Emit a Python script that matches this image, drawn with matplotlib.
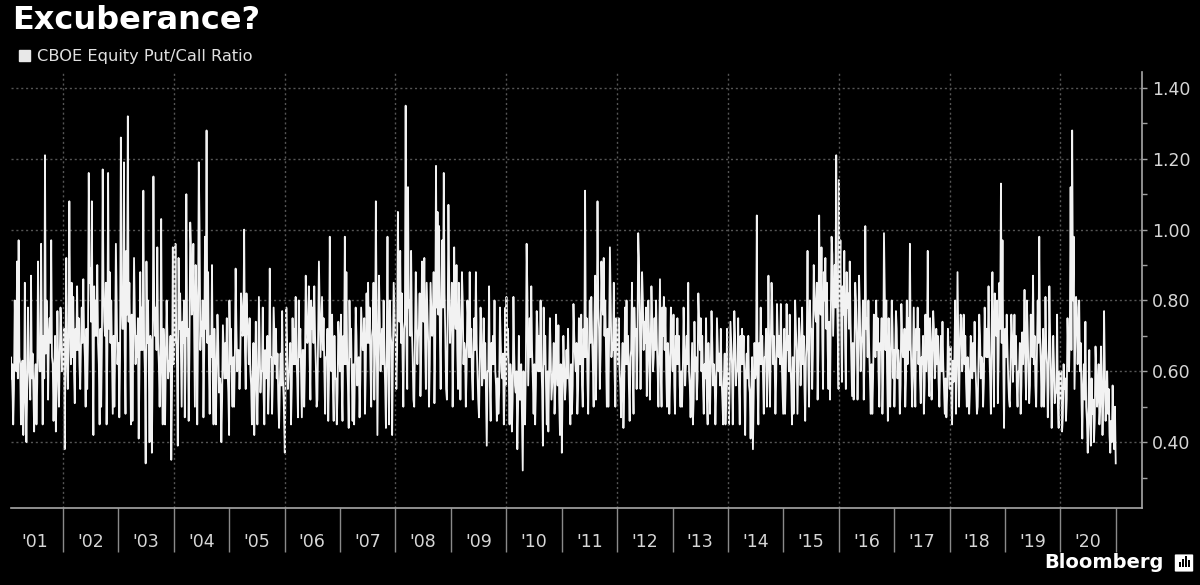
import numpy as np
import pandas as pd
import matplotlib
matplotlib.use('Agg')
import matplotlib.pyplot as plt
import matplotlib.dates as mdates
from matplotlib.ticker import FormatStrFormatter
from matplotlib.patches import Patch, Rectangle, FancyBboxPatch

# CBOE equity put/call ratio (x100), 6 readings per month
pcr_2001 = [57, 72, 60, 48, 64, 58, 62, 45, 55, 80, 66, 60, 91, 58, 97, 64, 62, 45, 60, 63, 42, 52, 85, 55,
            40, 54, 78, 62, 58, 52, 87, 58, 65, 55, 43, 57, 62, 45, 57, 91, 68, 60, 60, 96, 66, 45, 70, 58,
            121, 65, 80, 72, 52, 70, 75, 68, 97, 64, 62, 46, 60, 70, 43, 56, 77, 62, 50, 64, 78, 72, 60, 66]
pcr_2002 = [62, 72, 38, 66, 92, 64, 55, 66, 108, 75, 62, 85, 64, 81, 60, 51, 72, 66, 84, 66, 75, 62, 55, 68,
            78, 68, 86, 70, 64, 50, 72, 55, 68, 116, 85, 89, 74, 108, 66, 42, 84, 70, 80, 70, 90, 68, 62, 45,
            72, 50, 68, 117, 84, 74, 70, 85, 45, 66, 116, 72, 88, 68, 80, 64, 48, 70, 50, 66, 96, 78, 62, 68]
pcr_2003 = [68, 47, 64, 126, 80, 72, 72, 119, 66, 48, 94, 76, 132, 74, 85, 68, 45, 76, 46, 68, 92, 78, 62, 70,
            64, 75, 41, 60, 88, 66, 78, 66, 111, 68, 60, 34, 91, 68, 80, 62, 40, 70, 68, 37, 62, 115, 80, 70,
            78, 66, 95, 68, 62, 50, 64, 103, 60, 45, 72, 66, 45, 62, 80, 70, 58, 63, 60, 70, 35, 56, 95, 62]
pcr_2004 = [80, 68, 96, 70, 62, 39, 92, 72, 82, 66, 50, 74, 68, 80, 47, 62, 110, 70, 72, 46, 66, 102, 95, 76,
            78, 96, 72, 50, 90, 80, 45, 72, 119, 100, 66, 74, 70, 80, 47, 66, 98, 72, 128, 68, 88, 62, 48, 70,
            64, 90, 58, 45, 72, 62, 45, 60, 76, 68, 54, 58, 56, 40, 52, 73, 65, 58, 68, 58, 75, 60, 54, 42]
pcr_2005 = [80, 62, 72, 58, 50, 64, 50, 64, 89, 72, 60, 66, 66, 55, 62, 82, 78, 70, 72, 100, 66, 55, 82, 74,
            70, 62, 75, 60, 56, 45, 60, 68, 42, 56, 74, 58, 45, 58, 81, 68, 54, 60, 60, 78, 54, 45, 66, 58,
            62, 70, 48, 56, 89, 64, 64, 48, 58, 78, 70, 62, 72, 58, 65, 52, 44, 56, 65, 56, 77, 58, 52, 42]
pcr_2006 = [37, 58, 78, 68, 55, 60, 60, 68, 45, 56, 75, 62, 72, 62, 81, 64, 58, 47, 80, 64, 72, 60, 47, 66,
            66, 50, 62, 87, 76, 68, 70, 84, 64, 52, 80, 72, 78, 68, 84, 70, 62, 50, 52, 70, 91, 78, 64, 72,
            81, 66, 75, 60, 48, 64, 64, 72, 46, 58, 98, 62, 60, 76, 55, 46, 70, 58, 58, 45, 54, 74, 68, 60]
pcr_2007 = [60, 76, 56, 46, 70, 62, 98, 62, 88, 64, 56, 44, 80, 64, 72, 58, 46, 62, 45, 60, 78, 70, 56, 62,
            64, 47, 58, 78, 72, 66, 66, 75, 48, 60, 82, 68, 85, 68, 78, 62, 50, 70, 72, 85, 52, 65, 108, 76,
            42, 66, 87, 75, 60, 68, 72, 62, 80, 64, 56, 44, 68, 98, 62, 45, 80, 70, 68, 42, 64, 85, 78, 70]
pcr_2008 = [70, 55, 65, 105, 82, 74, 94, 68, 82, 64, 50, 72, 74, 135, 68, 55, 112, 78, 80, 70, 94, 72, 64, 52,
            50, 68, 88, 78, 62, 70, 72, 82, 53, 66, 91, 76, 74, 92, 68, 55, 85, 76, 68, 50, 62, 85, 78, 70,
            74, 88, 51, 68, 118, 78, 105, 76, 101, 70, 55, 80, 97, 78, 116, 82, 70, 55, 52, 74, 107, 85, 68, 76]
pcr_2009 = [74, 85, 50, 68, 95, 76, 72, 90, 66, 55, 85, 74, 52, 70, 88, 80, 62, 68, 66, 50, 60, 80, 75, 64,
            88, 64, 72, 58, 52, 66, 75, 66, 88, 68, 60, 52, 47, 62, 78, 70, 56, 60, 75, 58, 68, 54, 39, 60,
            60, 84, 56, 46, 68, 62, 70, 62, 80, 60, 56, 46, 58, 48, 54, 78, 68, 60, 58, 65, 45, 54, 78, 56]
pcr_2010 = [81, 64, 72, 58, 45, 62, 58, 43, 52, 81, 65, 56, 54, 60, 38, 50, 70, 52, 52, 62, 48, 32, 60, 50,
            45, 62, 96, 82, 56, 66, 75, 64, 84, 66, 58, 48, 62, 45, 56, 77, 72, 60, 70, 60, 80, 62, 55, 39,
            78, 62, 70, 56, 45, 60, 43, 58, 75, 65, 52, 56, 60, 68, 48, 55, 76, 62, 56, 73, 52, 42, 62, 54]
pcr_2011 = [37, 55, 70, 62, 52, 56, 66, 58, 72, 60, 54, 45, 62, 48, 56, 79, 70, 64, 60, 68, 48, 55, 75, 62,
            62, 76, 56, 50, 72, 64, 111, 64, 75, 58, 48, 66, 80, 68, 81, 70, 62, 50, 74, 87, 52, 68, 108, 78,
            72, 55, 66, 91, 82, 76, 92, 70, 80, 64, 50, 72, 50, 70, 95, 80, 64, 68, 66, 85, 60, 50, 75, 68]
pcr_2012 = [70, 62, 75, 60, 56, 47, 60, 68, 44, 55, 78, 62, 80, 62, 70, 56, 46, 64, 66, 85, 60, 48, 78, 70,
            72, 55, 66, 99, 92, 76, 55, 72, 88, 80, 66, 74, 68, 78, 53, 62, 80, 70, 52, 66, 84, 75, 60, 64,
            75, 66, 80, 68, 60, 50, 68, 86, 62, 50, 78, 70, 81, 66, 78, 60, 50, 68, 64, 48, 58, 78, 72, 62]
pcr_2013 = [60, 76, 56, 48, 70, 62, 75, 62, 70, 56, 50, 60, 50, 60, 78, 68, 56, 62, 70, 62, 85, 60, 56, 47,
            58, 68, 45, 52, 74, 60, 64, 52, 58, 82, 75, 66, 75, 60, 70, 56, 48, 62, 58, 75, 53, 45, 68, 60,
            48, 60, 77, 68, 56, 62, 58, 45, 54, 75, 68, 60, 65, 56, 72, 58, 52, 45, 58, 65, 45, 54, 72, 56]
pcr_2014 = [60, 45, 56, 74, 68, 62, 45, 62, 77, 70, 56, 60, 60, 75, 56, 45, 70, 62, 72, 62, 70, 56, 42, 60,
            65, 58, 70, 56, 54, 41, 56, 64, 38, 52, 68, 58, 60, 104, 56, 45, 68, 62, 78, 62, 70, 58, 48, 64,
            64, 72, 50, 60, 87, 66, 50, 68, 85, 78, 62, 70, 62, 48, 58, 79, 70, 64, 70, 62, 79, 64, 56, 48]
pcr_2015 = [64, 72, 48, 58, 79, 66, 70, 60, 76, 62, 56, 45, 64, 48, 58, 80, 72, 66, 48, 62, 75, 70, 56, 64,
            78, 62, 70, 56, 46, 64, 68, 94, 62, 50, 80, 72, 72, 55, 66, 90, 82, 76, 74, 85, 52, 66, 104, 78,
            76, 95, 70, 55, 88, 80, 92, 72, 85, 66, 55, 74, 52, 76, 98, 93, 70, 80, 90, 78, 121, 82, 70, 55]
pcr_2016 = [114, 80, 97, 72, 57, 84, 76, 94, 68, 55, 88, 78, 82, 72, 91, 74, 64, 53, 68, 52, 62, 85, 80, 70,
            52, 66, 87, 78, 60, 68, 70, 80, 52, 64, 101, 72, 75, 64, 80, 66, 58, 48, 62, 48, 58, 76, 72, 64,
            80, 66, 75, 60, 50, 68, 66, 75, 48, 60, 99, 82, 66, 80, 60, 46, 75, 64, 50, 64, 80, 72, 58, 66]
pcr_2017 = [50, 64, 77, 72, 58, 66, 62, 48, 56, 79, 70, 64, 64, 72, 50, 58, 80, 62, 75, 66, 96, 68, 60, 50,
            64, 78, 58, 50, 72, 66, 78, 62, 72, 58, 51, 64, 62, 70, 48, 56, 76, 60, 66, 94, 60, 53, 75, 68,
            52, 64, 77, 72, 58, 62, 72, 62, 70, 57, 50, 64, 70, 60, 74, 62, 55, 48, 58, 47, 53, 72, 65, 56]
pcr_2018 = [55, 67, 51, 45, 63, 57, 64, 80, 48, 60, 88, 68, 50, 66, 76, 75, 60, 64, 76, 62, 70, 57, 50, 64,
            60, 48, 55, 70, 67, 58, 68, 60, 74, 62, 56, 48, 50, 62, 76, 70, 58, 64, 62, 50, 57, 78, 70, 64,
            72, 64, 84, 66, 58, 48, 72, 88, 66, 50, 82, 74, 70, 80, 51, 64, 85, 72, 113, 68, 97, 62, 44, 70]
pcr_2019 = [72, 64, 76, 66, 58, 52, 50, 62, 76, 70, 57, 64, 76, 62, 70, 56, 50, 60, 60, 68, 48, 56, 71, 62,
            68, 83, 62, 52, 80, 72, 62, 51, 56, 76, 72, 64, 87, 62, 70, 56, 50, 64, 80, 68, 98, 70, 62, 50,
            64, 72, 50, 58, 81, 66, 62, 47, 56, 84, 70, 60, 44, 56, 70, 62, 51, 54, 54, 76, 50, 44, 60, 52]
pcr_2020 = [52, 60, 43, 47, 62, 55, 58, 46, 52, 75, 65, 60, 72, 112, 66, 128, 80, 98, 55, 68, 81, 78, 62, 70,
            80, 60, 68, 52, 41, 56, 62, 52, 74, 50, 46, 37, 50, 66, 45, 39, 58, 48, 52, 40, 46, 67, 60, 50,
            54, 62, 45, 50, 67, 56, 42, 52, 77, 60, 46, 54, 60, 48, 55, 42, 37, 46, 40, 56, 44, 38, 50, 34]

years = list(range(2001, 2021))
series = [pcr_2001, pcr_2002, pcr_2003, pcr_2004, pcr_2005, pcr_2006, pcr_2007, pcr_2008, pcr_2009, pcr_2010,
          pcr_2011, pcr_2012, pcr_2013, pcr_2014, pcr_2015, pcr_2016, pcr_2017, pcr_2018, pcr_2019, pcr_2020]
year_labels = ["'%02d" % (y % 100) for y in years]

dates = []
vals = []
for yr, s in zip(years, series):
    dates.extend(pd.date_range(f'{yr}-01-02', f'{yr}-12-31', periods=len(s)))
    vals.extend(s)
dates = mdates.date2num(pd.to_datetime(dates))
vals = np.array(vals) / 100

fig = plt.figure(figsize=(12, 5.85), dpi=100, facecolor='black')
ax = fig.add_axes([0.00875, 0.1316, 0.9429, 0.7453], facecolor='black')

ax.plot(dates, vals, color='#f2f2f2', lw=1.3)

ax.set_xlim(mdates.date2num(pd.Timestamp('2001-01-20')), mdates.date2num(pd.Timestamp('2021-06-22')))
ax.set_ylim(0.214, 1.445)

# right hand y axis
ax.yaxis.tick_right()
ax.set_yticks(np.arange(0.4, 1.41, 0.2))
ax.set_yticks(np.arange(0.3, 1.31, 0.2), minor=True)
ax.yaxis.set_major_formatter(FormatStrFormatter('%.2f'))
ax.tick_params(axis='y', which='major', direction='out', length=3.6, width=1, color='#a0a0a0',
               labelcolor='#d6d6d6', labelsize=12.5, pad=3.6)
ax.tick_params(axis='y', which='minor', direction='out', length=3.6, width=1, color='#a0a0a0')

# year boundaries as long ticks, labels in between
year_starts = mdates.date2num([pd.Timestamp(f'{y}-01-01') for y in range(2002, 2022)])
mid_years = mdates.date2num([pd.Timestamp(f'{y}-07-02') for y in years])
ax.set_xticks(year_starts)
ax.set_xticklabels([])
ax.set_xticks(mid_years, minor=True)
ax.set_xticklabels(year_labels, minor=True)
ax.tick_params(axis='x', which='major', direction='out', length=32, width=1, color='#8a8a8a')
ax.tick_params(axis='x', which='minor', length=0, pad=18, labelsize=12.5, labelcolor='#d6d6d6')

ax.grid(axis='y', which='major', linestyle=(0, (1.5, 2)), color='#555555', lw=1)
for y in range(2002, 2021, 2):
    ax.axvline(mdates.date2num(pd.Timestamp(f'{y}-01-01')), linestyle=(0, (1.5, 2)), color='#555555', lw=1)
ax.set_axisbelow(True)

for side in ['top', 'left']:
    ax.spines[side].set_visible(False)
for side in ['right', 'bottom']:
    ax.spines[side].set_color('#a8a8a8')
    ax.spines[side].set_linewidth(1.2)

fig.text(0.0105, 0.951, 'Excuberance?', fontsize=23, fontweight='bold', color='white', va='baseline')

fig.legend(handles=[Patch(color='#e8e8e8', label='CBOE Equity Put/Call Ratio')],
           loc='upper left', bbox_to_anchor=(0.0155, 0.916), frameon=False,
           handlelength=0.7, handleheight=0.7, handletextpad=0.45, borderpad=0, borderaxespad=0,
           fontsize=11.7, labelcolor='#e0e0e0')

# Bloomberg logo
fig.text(1164 / 1200, 1 - 568 / 585, 'Bloomberg', ha='right', va='baseline', fontsize=14,
         fontweight='bold', color='white')
fig.patches.append(FancyBboxPatch((1176 / 1200, 1 - 571 / 585), 16 / 1200, 16 / 585,
                                  boxstyle='round,pad=0.001', transform=fig.transFigure,
                                  facecolor='white', edgecolor='none'))
for i, h in enumerate([5, 8, 11, 7]):
    fig.patches.append(Rectangle(((1179 + i * 3) / 1200, 1 - 567 / 585), 1.6 / 1200, h / 585,
                                 transform=fig.transFigure, facecolor='black', edgecolor='none'))

fig.savefig('out.png', dpi=100, facecolor='black')
